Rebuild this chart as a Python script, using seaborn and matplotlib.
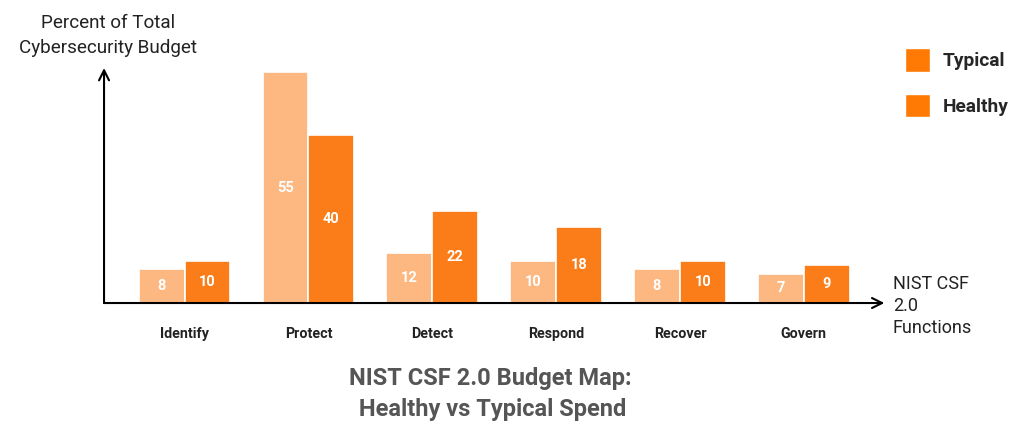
import numpy as np
import pandas as pd
import matplotlib.pyplot as plt
import seaborn as sns
from matplotlib.patches import Patch

# ---- data ----
functions = ['Identify', 'Protect', 'Detect', 'Respond', 'Recover', 'Govern']
typical = [8, 55, 12, 10, 8, 7]
healthy = [10, 40, 22, 18, 10, 9]
series = ['Typical', 'Healthy']

df = pd.DataFrame({
    'Function': functions * 2,
    'Spend': typical + healthy,
    'Series': ['Typical'] * len(functions) + ['Healthy'] * len(functions),
})

palette = {'Typical': '#FDB882', 'Healthy': '#FA7D1A'}

sns.set_theme(style='white')
plt.rcParams['font.family'] = ['Roboto', 'DejaVu Sans']

fig = plt.figure(figsize=(10.24, 4.36), dpi=100)
ax = fig.add_axes([0.1016, 0.305, 0.762, 0.539])

sns.barplot(data=df, x='Function', y='Spend', hue='Series',
            order=functions, hue_order=series, palette=palette,
            width=0.74, edgecolor='white', linewidth=1.2,
            saturation=1, legend=False, ax=ax)

for cont in ax.containers:
    labels = [f"{v:g}" for v in cont.datavalues]
    ax.bar_label(cont, labels=labels, label_type='center',
                 color='white', fontsize=10.5, fontweight='bold')

ax.set_xlim(-0.65, 5.65)
ax.set_ylim(0, 56)
for s in ax.spines.values():
    s.set_visible(False)
ax.set_yticks([])
ax.tick_params(axis='x', length=0, pad=17)
for t in ax.get_xticklabels():
    t.set_fontweight('bold')
    t.set_fontsize(10.3)
    t.set_color('#222222')
ax.set_xlabel('')
ax.set_ylabel('')

# axis arrows
ax.annotate('', xy=(0, 1.0), xytext=(0, 0), xycoords='axes fraction',
            arrowprops=dict(arrowstyle='->', color='black', lw=1.5,
                            mutation_scale=18, shrinkA=0, shrinkB=0))
ax.annotate('', xy=(1.0, 0), xytext=(0, 0), xycoords='axes fraction',
            arrowprops=dict(arrowstyle='->', color='black', lw=1.5,
                            mutation_scale=18, shrinkA=0, shrinkB=0))

# axis titles
fig.text(108 / 1024, 1 - 14 / 436, 'Percent of Total\nCybersecurity Budget',
         ha='center', va='top', multialignment='center',
         fontsize=13.6, color='#222222', linespacing=1.5)
fig.text(893 / 1024, 1 - 275 / 436, 'NIST CSF\n2.0\nFunctions',
         ha='left', va='top', fontsize=13, color='#222222', linespacing=1.3)

# legend
handles = [Patch(facecolor='#FF7A05', edgecolor='white') for _ in series]
leg = fig.legend(handles, series, loc='upper left',
                 bbox_to_anchor=(888 / 1024, 1 - 31 / 436), frameon=False,
                 handlelength=1.3, handleheight=1.5, labelspacing=1.15,
                 handletextpad=0.65,
                 prop={'weight': 'bold', 'size': 13.8})

# title
fig.text(490 / 1024, 1 - 367 / 436,
         'NIST CSF 2.0 Budget Map:\n Healthy vs Typical Spend',
         ha='center', va='top', fontsize=17, fontweight='bold',
         color='#555555', linespacing=1.45)

fig.savefig('out.png', dpi=100, facecolor='white')
